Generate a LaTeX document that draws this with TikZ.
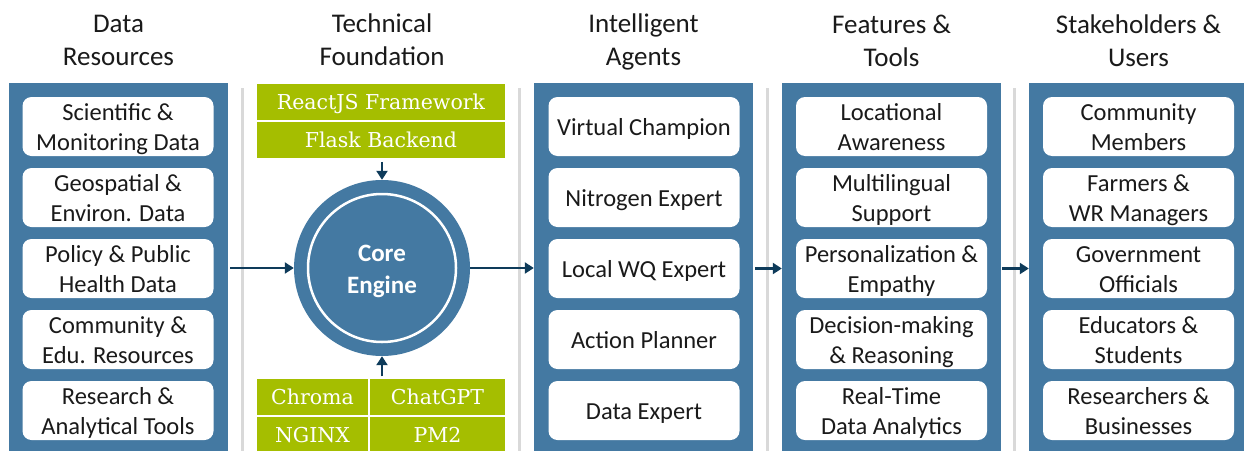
\documentclass[tikz,border=0pt]{standalone}
\usepackage{fontspec}
\setmainfont{Carlito}
\newfontfamily\slabfont{DejaVu Serif}
\usetikzlibrary{arrows.meta,calc}
\definecolor{panelblue}{HTML}{4479A2}
\definecolor{techgreen}{HTML}{A5BE00}
\definecolor{arrowdark}{HTML}{0E3B5A}
\definecolor{sepgray}{HTML}{D9D9D9}
\definecolor{txt}{HTML}{1A1A1A}
\newcommand\ms{\rule[\dimexpr3pt-0.3\baselineskip\relax]{0pt}{\baselineskip}}
\begin{document}
\begin{tikzpicture}[x=1pt,y=-1pt,
 panel/.style={fill=panelblue, draw=none, minimum width=219pt, minimum height=380pt, inner sep=0pt, anchor=north},
 item/.style={fill=white, rounded corners=9pt, minimum width=191pt, minimum height=59pt, inner sep=0pt, align=center, font=\fontsize{24.5}{29.5}\selectfont, text=txt},
 header/.style={align=center, font=\fontsize{27}{33}\selectfont, text=txt},
 tech/.style={fill=techgreen, draw=white, line width=1.5pt, text=white, font=\slabfont\fontsize{20.5}{24}\selectfont, inner sep=0pt, minimum height=38pt},
 arr/.style={draw=arrowdark, line width=2.5pt, -{Triangle[length=9pt,width=11pt]}},
 sepline/.style={draw=sepgray, line width=3pt}]
\useasboundingbox (0,0) rectangle (1244,450);

% headers
\node[header] (h1) at (118.5,39) {Data\ms\\Resources\ms};
\node[header] (h2) at (382,39) {Technical\ms\\Foundation\ms};
\node[header] (h3) at (643.5,39) {Intelligent\ms\\Agents\ms};
\node[header] (h4) at (891.5,40) {Features \&\ms\\Tools\ms};
\node[header] (h5) at (1138.5,40.5) {Stakeholders \&\ms\\Users\ms};

% separators
\draw[sepline] (242,88) -- (242,452);
\draw[sepline] (519,88) -- (519,452);
\draw[sepline] (767,88) -- (767,452);
\draw[sepline] (1014,88) -- (1014,452);

% panels
\node[panel] (p1) at (118.5,83) {};
\node[panel] (p3) at (643.5,83) {};
\node[panel] (p4) at (891.5,83) {};
\node[panel] (p5) at (1138.5,83) {};

% column 1
\node[item] (a1) at (118,126.5) {Scientific \&\ms\\Monitoring Data\ms};
\node[item] (a2) at (118,197.5) {Geospatial \&\ms\\Environ. Data\ms};
\node[item] (a3) at (118,268.5) {Policy \& Public\ms\\Health Data\ms};
\node[item] (a4) at (118,339.5) {Community \&\ms\\Edu. Resources\ms};
\node[item] (a5) at (118,410.5) {Research \&\ms\\Analytical Tools\ms};

% column 3
\node[item] (c1) at (644,126.5) {Virtual Champion\ms};
\node[item] (c2) at (644,197.5) {Nitrogen Expert\ms};
\node[item] (c3) at (644,268.5) {Local WQ Expert\ms};
\node[item] (c4) at (644,339.5) {Action Planner\ms};
\node[item] (c5) at (644,410.5) {Data Expert\ms};

% column 4
\node[item] (d1) at (891.5,126.5) {Locational\ms\\Awareness\ms};
\node[item] (d2) at (891.5,197.5) {Multilingual\ms\\Support\ms};
\node[item] (d3) at (891.5,268.5) {Personalization \&\ms\\Empathy\ms};
\node[item] (d4) at (891.5,339.5) {Decision-making\ms\\\& Reasoning\ms};
\node[item] (d5) at (891.5,410.5) {Real-Time\ms\\Data Analytics\ms};

% column 5
\node[item] (e1) at (1138.5,126.5) {Community\ms\\Members\ms};
\node[item] (e2) at (1138.5,197.5) {Farmers \&\ms\\WR Managers\ms};
\node[item] (e3) at (1138.5,268.5) {Government\ms\\Officials\ms};
\node[item] (e4) at (1138.5,339.5) {Educators \&\ms\\Students\ms};
\node[item] (e5) at (1138.5,410.5) {Researchers \&\ms\\Businesses\ms};

% technical foundation
\node[tech, minimum width=250pt] (t1) at (381,102) {ReactJS Framework\ms};
\node[tech, minimum width=250pt] (t2) at (381,140) {Flask Backend\ms};
\node[tech, minimum width=113pt] (b1) at (312.5,397) {Chroma\ms};
\node[tech, minimum width=137pt] (b2) at (437.5,397) {ChatGPT\ms};
\node[tech, minimum width=113pt] (b3) at (312.5,435) {NGINX\ms};
\node[tech, minimum width=137pt] (b4) at (437.5,435) {PM2\ms};

% core engine
\node[circle, fill=panelblue, minimum size=176pt, inner sep=0pt, align=center,
      text=white, font=\bfseries\fontsize{25}{32}\selectfont] (core) at (382,268) {Core\ms\\Engine\ms};
\draw[white, line width=2.5pt] (core.center) circle[radius=74pt];

% arrows
\draw[arr] ([xshift=2pt]p1.east |- core.west) -- (core.west);
\draw[arr] (core.east) -- (core.east -| p3.west);
\draw[arr] ([yshift=-2pt]t2.south -| core.north) -- (core.north);
\draw[arr] ([yshift=1pt]b1.north -| core.south) -- (core.south);
\draw[arr] ([xshift=2pt]p3.east |- c3.east) -- (p4.west |- c3.east);
\draw[arr] ([xshift=1pt]p4.east |- d3.east) -- (p5.west |- d3.east);
\end{tikzpicture}
\end{document}
